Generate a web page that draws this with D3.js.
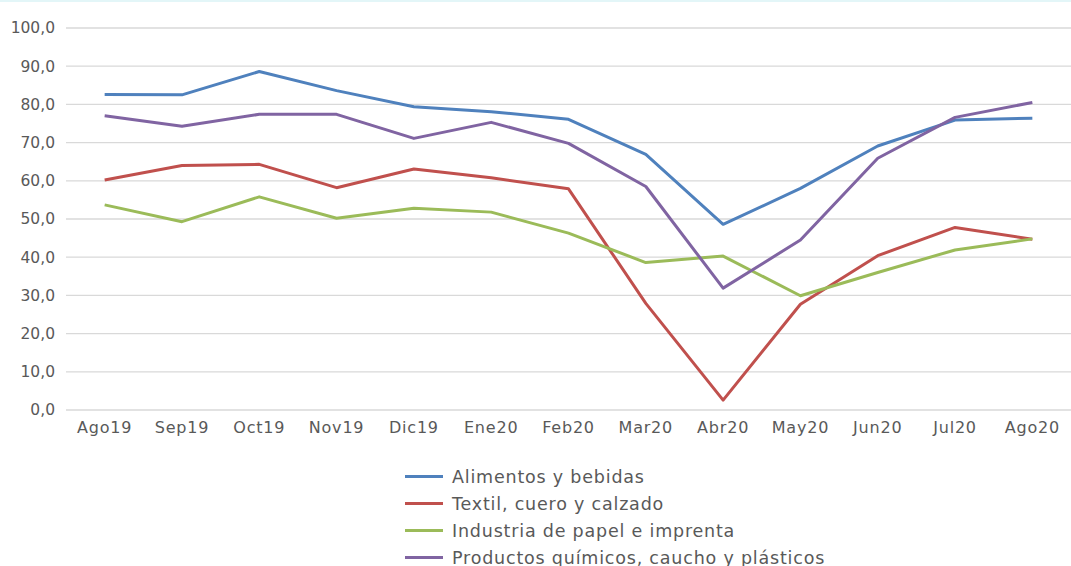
<!DOCTYPE html>
<html>
<head>
<meta charset="utf-8">
<script src="https://cdn.jsdelivr.net/npm/d3@7"></script>
<style>
  body { margin: 0; background: #fff; }
  svg text { font-family: "DejaVu Sans", "Open Sans", sans-serif; fill: #595959; }
</style>
</head>
<body>
<script>
'use strict';

var months = ['Ago19', 'Sep19', 'Oct19', 'Nov19', 'Dic19', 'Ene20', 'Feb20',
	'Mar20', 'Abr20', 'May20', 'Jun20', 'Jul20', 'Ago20'];

var alimentos = [82.6, 82.5, 88.6, 83.6, 79.4, 78.1, 76.1, 66.9, 48.6, 58.0, 69.1, 75.9, 76.4];
var textil = [60.2, 64.0, 64.3, 58.2, 63.1, 60.8, 57.9, 27.9, 2.6, 27.7, 40.4, 47.8, 44.7];
var papel = [53.7, 49.3, 55.8, 50.2, 52.8, 51.8, 46.3, 38.6, 40.3, 29.9, 36.0, 41.9, 44.8];
var quimicos = [77.0, 74.3, 77.4, 77.4, 71.1, 75.3, 69.8, 58.5, 31.9, 44.5, 65.9, 76.6, 80.5];

var seriesNames = ['Alimentos y bebidas', 'Textil, cuero y calzado',
	'Industria de papel e imprenta', 'Productos químicos, caucho y plásticos'];
var seriesColors = ['#4f81bd', '#c0504d', '#9bbb59', '#8064a2'];
var yTicks = [0, 10, 20, 30, 40, 50, 60, 70, 80, 90, 100];

var series = [alimentos, textil, papel, quimicos];

var W = 1071, H = 566;
var svg = d3.select('body').append('svg').attr('width', W).attr('height', H);

// faint top edge
svg.append('rect').attr('x', 0).attr('y', 0).attr('width', W).attr('height', 2)
	.attr('fill', '#e3f6f8');

var x = d3.scalePoint().domain(months).range([66, 1071]).padding(0.5);
var y = d3.scaleLinear().domain([0, 100]).range([410, 28]);

var fmt = v => d3.format('.1f')(v).replace('.', ',');

// gridlines
svg.append('g').selectAll('line')
	.data(yTicks)
	.enter()
	.append('line')
	.attr('x1', 66).attr('x2', 1071)
	.attr('y1', d => y(d)).attr('y2', d => y(d))
	.attr('stroke', '#d9d9d9')
	.attr('stroke-width', 1.3);

// y labels
svg.append('g').selectAll('text')
	.data(yTicks)
	.enter()
	.append('text')
	.attr('x', 55)
	.attr('y', d => y(d))
	.attr('dy', '0.35em')
	.attr('text-anchor', 'end')
	.style('font-size', '15.5px')
	.text(fmt);

// x labels
svg.append('g').selectAll('text')
	.data(months)
	.enter()
	.append('text')
	.attr('x', d => x(d))
	.attr('y', 427)
	.attr('dy', '0.35em')
	.attr('text-anchor', 'middle')
	.style('font-size', '16px')
	.style('letter-spacing', '0.8px')
	.text(d => d);

var line = d3.line()
	.x((d, i) => x(months[i]))
	.y(d => y(d));

svg.append('g').selectAll('path')
	.data(series)
	.enter()
	.append('path')
	.attr('d', line)
	.attr('fill', 'none')
	.attr('stroke', (d, i) => seriesColors[i])
	.attr('stroke-width', 3)
	.attr('stroke-linejoin', 'round');

// legend
var leg = svg.append('g').selectAll('g')
	.data(seriesNames)
	.enter()
	.append('g')
	.attr('transform', (d, i) => 'translate(0,' + (476.5 + i * 27) + ')');

leg.append('line')
	.attr('x1', 405).attr('x2', 443)
	.attr('y1', 0).attr('y2', 0)
	.attr('stroke', (d, i) => seriesColors[i])
	.attr('stroke-width', 3);

leg.append('text')
	.attr('x', 452)
	.attr('y', 0)
	.attr('dy', '0.35em')
	.style('font-size', '17.5px')
	.style('letter-spacing', '0.8px')
	.text(d => d);
</script>
</body>
</html>
